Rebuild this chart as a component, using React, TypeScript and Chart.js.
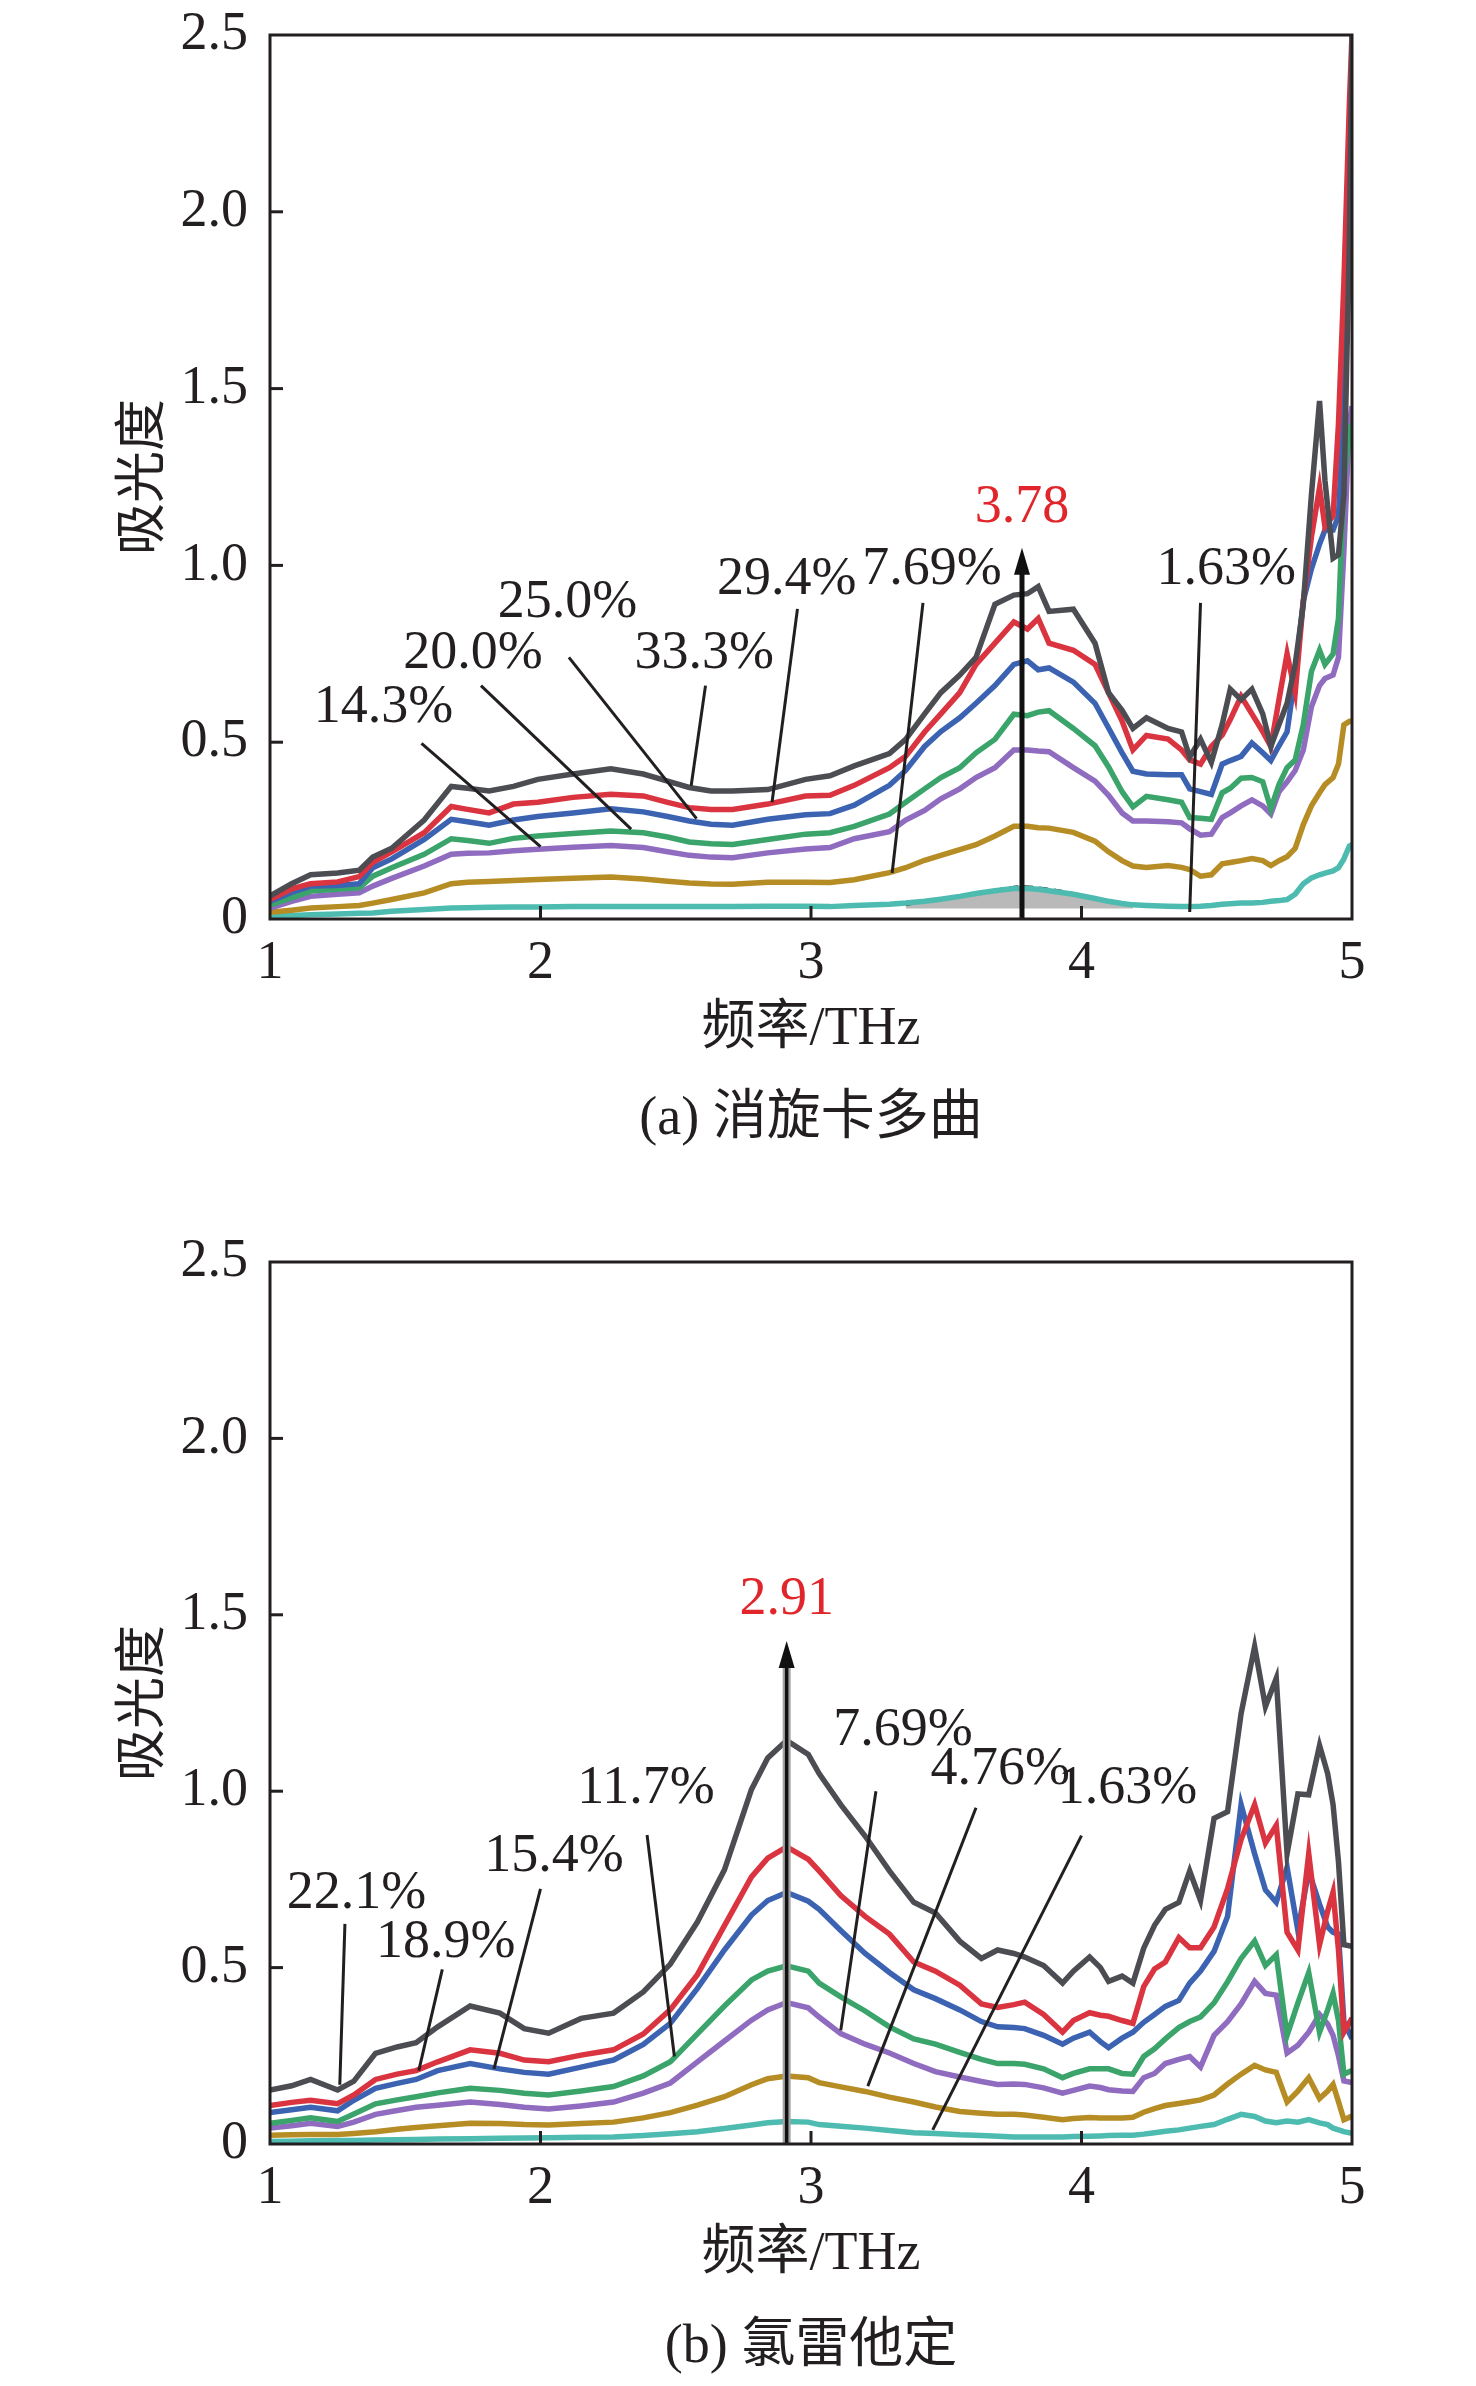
import { useEffect, useRef } from "react";
import { Chart, registerables } from "chart.js";

Chart.register(...registerables);

const SERIF = '"Liberation Serif", "Times New Roman", "Noto Sans CJK SC", serif';
const INK = "#231f20";
const RED_TEXT = "#e0262b";

// line colours, top of the stack first
const COLORS = ["#4b4d52", "#d9343f", "#3b63b1", "#3aa46a", "#8f6cbf", "#b68c24", "#4dbbb0"];

const X_TICKS = [1, 2, 3, 4, 5];
const Y_TICK_LABELS = ["0", "0.5", "1.0", "1.5", "2.0", "2.5"];
const X_INNER_TICKS = [2, 3, 4];
const Y_INNER_TICKS = [0.5, 1.0, 1.5, 2.0];

// ─── (a) 消旋卡多曲 ──────────────────────────────────────────────
const A_FREQ = [1.0, 1.08, 1.15, 1.25, 1.33, 1.38, 1.45, 1.57, 1.67, 1.73, 1.81, 1.9, 1.99, 2.12, 2.26, 2.38, 2.47, 2.55, 2.63, 2.71, 2.84, 2.98, 3.07, 3.16, 3.29, 3.35, 3.42, 3.48, 3.55, 3.61, 3.68, 3.75, 3.8, 3.84, 3.88, 3.97, 4.05, 4.1, 4.15, 4.19, 4.24, 4.32, 4.37, 4.4, 4.44, 4.48, 4.52, 4.55, 4.59, 4.63, 4.67, 4.7, 4.73, 4.76, 4.79, 4.82, 4.85, 4.88, 4.9, 4.93, 4.95, 4.97, 4.99, 5.0];
const A_33_3 = [0.065, 0.10, 0.125, 0.13, 0.138, 0.175, 0.20, 0.28, 0.375, 0.37, 0.362, 0.375, 0.395, 0.41, 0.425, 0.41, 0.39, 0.372, 0.362, 0.362, 0.366, 0.395, 0.405, 0.433, 0.468, 0.508, 0.58, 0.64, 0.69, 0.74, 0.89, 0.916, 0.92, 0.94, 0.87, 0.876, 0.78, 0.64, 0.59, 0.539, 0.569, 0.539, 0.529, 0.458, 0.508, 0.443, 0.55, 0.65, 0.62, 0.65, 0.58, 0.488, 0.55, 0.61, 0.72, 0.89, 1.2, 1.465, 1.24, 1.02, 1.03, 1.2, 1.9, 2.5];
const A_29_4 = [0.055, 0.085, 0.10, 0.105, 0.12, 0.16, 0.19, 0.244, 0.318, 0.31, 0.30, 0.325, 0.33, 0.344, 0.353, 0.348, 0.33, 0.315, 0.31, 0.31, 0.325, 0.348, 0.35, 0.378, 0.428, 0.46, 0.529, 0.58, 0.64, 0.72, 0.78, 0.84, 0.82, 0.85, 0.78, 0.76, 0.72, 0.64, 0.56, 0.478, 0.519, 0.509, 0.478, 0.45, 0.438, 0.488, 0.52, 0.564, 0.63, 0.58, 0.53, 0.488, 0.62, 0.75, 0.64, 0.90, 1.08, 1.22, 1.11, 1.14, 1.4, 1.8, 2.3, 2.5];
const A_25_0 = [0.05, 0.075, 0.093, 0.095, 0.10, 0.145, 0.17, 0.225, 0.282, 0.275, 0.265, 0.28, 0.29, 0.30, 0.312, 0.303, 0.29, 0.277, 0.268, 0.265, 0.282, 0.295, 0.298, 0.322, 0.378, 0.42, 0.488, 0.53, 0.569, 0.61, 0.66, 0.72, 0.73, 0.705, 0.71, 0.67, 0.61, 0.54, 0.47, 0.418, 0.41, 0.408, 0.408, 0.368, 0.36, 0.352, 0.438, 0.448, 0.46, 0.498, 0.47, 0.448, 0.49, 0.529, 0.69, 0.9, 0.99, 1.06, 1.10, 1.10, 1.14, 1.445, 1.9, 2.0];
const A_20_0 = [0.04, 0.06, 0.079, 0.084, 0.088, 0.121, 0.145, 0.183, 0.227, 0.222, 0.214, 0.228, 0.235, 0.242, 0.249, 0.244, 0.232, 0.218, 0.213, 0.211, 0.225, 0.24, 0.244, 0.262, 0.297, 0.33, 0.368, 0.40, 0.428, 0.47, 0.508, 0.579, 0.575, 0.585, 0.589, 0.539, 0.49, 0.43, 0.36, 0.317, 0.347, 0.337, 0.33, 0.287, 0.285, 0.282, 0.357, 0.37, 0.398, 0.40, 0.388, 0.312, 0.38, 0.428, 0.45, 0.55, 0.7, 0.76, 0.72, 0.75, 0.85, 1.24, 1.38, 1.4];
const A_14_3 = [0.031, 0.05, 0.064, 0.07, 0.074, 0.093, 0.115, 0.15, 0.183, 0.186, 0.187, 0.193, 0.197, 0.203, 0.208, 0.202, 0.19, 0.18, 0.175, 0.173, 0.187, 0.198, 0.202, 0.227, 0.247, 0.28, 0.307, 0.34, 0.368, 0.40, 0.428, 0.478, 0.478, 0.475, 0.473, 0.428, 0.39, 0.35, 0.30, 0.277, 0.277, 0.275, 0.272, 0.255, 0.237, 0.24, 0.287, 0.30, 0.32, 0.337, 0.32, 0.297, 0.36, 0.388, 0.42, 0.478, 0.6, 0.66, 0.68, 0.69, 0.74, 1.04, 1.4, 1.45];
const A_7_69 = [0.019, 0.025, 0.031, 0.035, 0.038, 0.045, 0.055, 0.074, 0.10, 0.104, 0.106, 0.109, 0.112, 0.115, 0.119, 0.113, 0.107, 0.102, 0.099, 0.098, 0.104, 0.104, 0.103, 0.111, 0.131, 0.145, 0.166, 0.18, 0.196, 0.21, 0.235, 0.262, 0.262, 0.258, 0.257, 0.245, 0.22, 0.19, 0.165, 0.15, 0.146, 0.151, 0.146, 0.14, 0.121, 0.125, 0.156, 0.16, 0.165, 0.171, 0.165, 0.151, 0.165, 0.176, 0.2, 0.267, 0.32, 0.357, 0.38, 0.40, 0.438, 0.549, 0.559, 0.56];
const A_1_63 = [0.009, 0.01, 0.012, 0.014, 0.016, 0.017, 0.022, 0.027, 0.031, 0.032, 0.033, 0.034, 0.034, 0.035, 0.035, 0.035, 0.035, 0.035, 0.035, 0.035, 0.036, 0.036, 0.035, 0.038, 0.042, 0.045, 0.05, 0.056, 0.064, 0.072, 0.08, 0.086, 0.086, 0.084, 0.08, 0.07, 0.058, 0.05, 0.044, 0.04, 0.038, 0.036, 0.035, 0.035, 0.036, 0.038, 0.042, 0.043, 0.045, 0.045, 0.047, 0.05, 0.052, 0.055, 0.07, 0.1, 0.116, 0.125, 0.13, 0.136, 0.145, 0.17, 0.206, 0.21];
// grey shaded hump under the 3.78 THz peak
const A_SHADE_FREQ = [3.35, 3.5, 3.65, 3.78, 3.92, 4.05, 4.19];
const A_SHADE = [0.04, 0.06, 0.078, 0.092, 0.08, 0.06, 0.04];

// ─── (b) 氯雷他定 ────────────────────────────────────────────────
const B_FREQ = [1.0, 1.08, 1.15, 1.25, 1.31, 1.39, 1.47, 1.54, 1.62, 1.74, 1.85, 1.94, 2.03, 2.15, 2.27, 2.38, 2.48, 2.58, 2.68, 2.78, 2.84, 2.91, 2.99, 3.03, 3.11, 3.2, 3.29, 3.38, 3.46, 3.55, 3.63, 3.69, 3.75, 3.79, 3.86, 3.93, 3.97, 4.03, 4.07, 4.1, 4.15, 4.19, 4.23, 4.27, 4.31, 4.36, 4.4, 4.44, 4.49, 4.54, 4.59, 4.64, 4.68, 4.72, 4.76, 4.8, 4.84, 4.88, 4.91, 4.93, 4.95, 4.97, 5.0];
const B_22_1 = [0.153, 0.165, 0.183, 0.153, 0.178, 0.257, 0.275, 0.287, 0.332, 0.391, 0.371, 0.327, 0.314, 0.356, 0.371, 0.431, 0.51, 0.629, 0.777, 1.005, 1.094, 1.144, 1.104, 1.05, 0.962, 0.873, 0.774, 0.685, 0.655, 0.575, 0.526, 0.55, 0.54, 0.53, 0.506, 0.456, 0.49, 0.53, 0.50, 0.461, 0.476, 0.456, 0.555, 0.62, 0.665, 0.685, 0.774, 0.69, 0.923, 0.942, 1.22, 1.41, 1.24, 1.32, 0.823, 0.992, 0.99, 1.13, 1.05, 0.962, 0.8, 0.565, 0.56];
const B_18_9 = [0.109, 0.118, 0.124, 0.114, 0.139, 0.183, 0.198, 0.208, 0.233, 0.267, 0.257, 0.238, 0.233, 0.252, 0.267, 0.312, 0.381, 0.48, 0.619, 0.757, 0.81, 0.842, 0.807, 0.774, 0.704, 0.645, 0.595, 0.516, 0.49, 0.45, 0.397, 0.387, 0.395, 0.402, 0.367, 0.317, 0.35, 0.372, 0.365, 0.362, 0.35, 0.342, 0.446, 0.496, 0.516, 0.585, 0.556, 0.556, 0.615, 0.724, 0.863, 0.962, 0.853, 0.903, 0.6, 0.55, 0.823, 0.565, 0.66, 0.714, 0.55, 0.317, 0.357];
const B_15_4 = [0.089, 0.097, 0.104, 0.094, 0.124, 0.158, 0.172, 0.183, 0.208, 0.228, 0.213, 0.203, 0.198, 0.218, 0.238, 0.282, 0.342, 0.441, 0.55, 0.649, 0.69, 0.713, 0.688, 0.665, 0.605, 0.54, 0.486, 0.437, 0.412, 0.38, 0.347, 0.332, 0.33, 0.327, 0.308, 0.283, 0.30, 0.317, 0.29, 0.273, 0.30, 0.317, 0.345, 0.367, 0.39, 0.407, 0.456, 0.49, 0.546, 0.645, 0.962, 0.823, 0.72, 0.685, 0.784, 0.605, 0.774, 0.68, 0.615, 0.6, 0.595, 0.347, 0.298];
const B_11_7 = [0.059, 0.067, 0.074, 0.064, 0.085, 0.114, 0.125, 0.134, 0.145, 0.158, 0.152, 0.144, 0.139, 0.15, 0.163, 0.193, 0.233, 0.312, 0.391, 0.465, 0.49, 0.505, 0.49, 0.456, 0.417, 0.377, 0.332, 0.298, 0.283, 0.26, 0.24, 0.228, 0.228, 0.226, 0.213, 0.188, 0.20, 0.213, 0.213, 0.213, 0.2, 0.198, 0.248, 0.27, 0.298, 0.33, 0.347, 0.36, 0.40, 0.46, 0.526, 0.575, 0.506, 0.536, 0.308, 0.4, 0.486, 0.317, 0.38, 0.427, 0.35, 0.198, 0.208];
const B_7_69 = [0.045, 0.052, 0.059, 0.05, 0.062, 0.084, 0.095, 0.104, 0.11, 0.119, 0.112, 0.104, 0.099, 0.108, 0.119, 0.144, 0.173, 0.233, 0.292, 0.351, 0.38, 0.401, 0.386, 0.36, 0.313, 0.283, 0.258, 0.228, 0.205, 0.19, 0.177, 0.169, 0.17, 0.169, 0.159, 0.144, 0.152, 0.164, 0.16, 0.154, 0.15, 0.149, 0.188, 0.2, 0.228, 0.24, 0.248, 0.218, 0.308, 0.347, 0.397, 0.461, 0.427, 0.422, 0.258, 0.28, 0.317, 0.367, 0.34, 0.308, 0.25, 0.179, 0.174];
const B_4_76 = [0.025, 0.026, 0.027, 0.027, 0.03, 0.035, 0.042, 0.047, 0.052, 0.059, 0.058, 0.055, 0.054, 0.058, 0.062, 0.074, 0.089, 0.11, 0.134, 0.168, 0.185, 0.193, 0.188, 0.174, 0.162, 0.149, 0.133, 0.119, 0.105, 0.092, 0.087, 0.084, 0.084, 0.082, 0.076, 0.069, 0.072, 0.075, 0.074, 0.074, 0.074, 0.076, 0.09, 0.1, 0.109, 0.115, 0.12, 0.125, 0.139, 0.17, 0.198, 0.223, 0.21, 0.203, 0.119, 0.15, 0.188, 0.129, 0.15, 0.169, 0.12, 0.069, 0.079];
const B_1_63 = [0.007, 0.008, 0.009, 0.01, 0.01, 0.011, 0.012, 0.013, 0.014, 0.015, 0.016, 0.017, 0.018, 0.019, 0.02, 0.024, 0.029, 0.035, 0.044, 0.054, 0.06, 0.064, 0.062, 0.055, 0.05, 0.045, 0.038, 0.032, 0.03, 0.026, 0.024, 0.022, 0.02, 0.02, 0.02, 0.02, 0.021, 0.022, 0.023, 0.024, 0.025, 0.025, 0.028, 0.032, 0.036, 0.04, 0.045, 0.05, 0.055, 0.07, 0.084, 0.078, 0.065, 0.06, 0.065, 0.062, 0.069, 0.06, 0.055, 0.045, 0.04, 0.035, 0.03];

type Note = { text: string; at: [number, number]; from: [number, number]; to: [number, number] };
type Peak = { x: number; tip: number; label: string; labelY: number; halo: boolean };

const A_NOTES: Note[] = [
  { text: "14.3%", at: [1.42, 0.597], from: [1.56, 0.497], to: [2.0, 0.205] },
  { text: "20.0%", at: [1.75, 0.75], from: [1.78, 0.66], to: [2.335, 0.254] },
  { text: "25.0%", at: [2.1, 0.894], from: [2.105, 0.74], to: [2.577, 0.284] },
  { text: "33.3%", at: [2.605, 0.75], from: [2.61, 0.66], to: [2.557, 0.377] },
  { text: "29.4%", at: [2.91, 0.958], from: [2.95, 0.877], to: [2.856, 0.33] },
  { text: "7.69%", at: [3.447, 0.987], from: [3.414, 0.894], to: [3.3, 0.13] },
  { text: "1.63%", at: [4.535, 0.987], from: [4.44, 0.894], to: [4.4, 0.02] },
];
const A_PEAK: Peak = { x: 3.78, tip: 1.05, label: "3.78", labelY: 1.162, halo: false };

const B_NOTES: Note[] = [
  { text: "22.1%", at: [1.32, 0.708], from: [1.277, 0.624], to: [1.258, 0.168] },
  { text: "18.9%", at: [1.65, 0.569], from: [1.637, 0.495], to: [1.55, 0.208] },
  { text: "15.4%", at: [2.05, 0.815], from: [2.0, 0.723], to: [1.828, 0.213] },
  { text: "11.7%", at: [2.39, 1.008], from: [2.394, 0.876], to: [2.495, 0.248] },
  { text: "7.69%", at: [3.34, 1.17], from: [3.24, 1.0], to: [3.11, 0.322] },
  { text: "4.76%", at: [3.7, 1.06], from: [3.61, 0.953], to: [3.21, 0.164] },
  { text: "1.63%", at: [4.17, 1.006], from: [4.0, 0.874], to: [3.45, 0.04] },
];
const B_PEAK: Peak = { x: 2.91, tip: 1.426, label: "2.91", labelY: 1.543, halo: true };

type PanelProps = {
  top: number;
  height: number;
  plotTop: number;
  plotBottom: number;
  xTitleCenter: number;
  captionDy: number;
  freq: number[];
  series: number[][];
  shade?: { freq: number[]; values: number[] };
  notes: Note[];
  peak: Peak;
  caption: string;
};

// Draws frame, inward ticks, arrow, leader lines and all free text
function makeOverlay(p: PanelProps) {
  return {
    id: "overlay",
    afterDatasetsDraw(chart: Chart) {
      const { ctx, chartArea: a } = chart;
      const X = (v: number) => chart.scales.x.getPixelForValue(v);
      const Y = (v: number) => chart.scales.y.getPixelForValue(v);
      const seg = (x1: number, y1: number, x2: number, y2: number) => {
        ctx.beginPath();
        ctx.moveTo(x1, y1);
        ctx.lineTo(x2, y2);
        ctx.stroke();
      };
      ctx.save();

      ctx.strokeStyle = INK;
      ctx.lineWidth = 3;
      p.notes.forEach((n) => seg(X(n.from[0]), Y(n.from[1]), X(n.to[0]), Y(n.to[1])));

      // peak arrow
      const ax = X(p.peak.x);
      const tip = Y(p.peak.tip);
      if (p.peak.halo) {
        ctx.strokeStyle = "#a3a3a3";
        ctx.lineWidth = 8;
        seg(ax, a.bottom, ax, tip + 22);
      }
      ctx.strokeStyle = "#111";
      ctx.lineWidth = p.peak.halo ? 3.5 : 5;
      seg(ax, a.bottom, ax, tip + 22);
      ctx.fillStyle = "#111";
      ctx.beginPath();
      ctx.moveTo(ax, tip);
      ctx.lineTo(ax - 8, tip + 27);
      ctx.lineTo(ax + 8, tip + 27);
      ctx.closePath();
      ctx.fill();

      // frame + inward tick marks
      ctx.strokeStyle = INK;
      ctx.lineWidth = 3;
      ctx.strokeRect(a.left, a.top, a.right - a.left, a.bottom - a.top);
      X_INNER_TICKS.forEach((t) => seg(X(t), a.bottom, X(t), a.bottom - 13));
      Y_INNER_TICKS.forEach((t) => seg(a.left, Y(t), a.left + 13, Y(t)));

      ctx.font = `54px ${SERIF}`;
      ctx.textAlign = "center";
      ctx.textBaseline = "middle";
      ctx.fillStyle = INK;
      p.notes.forEach((n) => ctx.fillText(n.text, X(n.at[0]), Y(n.at[1])));
      ctx.fillStyle = RED_TEXT;
      ctx.fillText(p.peak.label, ax, Y(p.peak.labelY));
      ctx.fillStyle = INK;
      ctx.fillText(p.caption, (a.left + a.right) / 2, a.bottom + p.captionDy);
      ctx.restore();
    },
  };
}

function Panel(p: PanelProps) {
  const canvasRef = useRef<HTMLCanvasElement>(null);

  useEffect(() => {
    if (!canvasRef.current) return;
    const xAxisH = p.height - p.plotBottom;
    const tickFont = { family: SERIF, size: 54, lineHeight: 1.2 };

    const datasets: any[] = p.series.map((vals, i) => ({
      data: p.freq.map((f, j) => ({ x: f, y: vals[j] })),
      borderColor: COLORS[i],
      borderWidth: 5.5,
      pointRadius: 0,
      tension: 0,
      fill: false,
    }));
    if (p.shade) {
      const s = p.shade;
      datasets.push({
        data: s.freq.map((f, j) => ({ x: f, y: s.values[j] })),
        borderColor: "#111",
        borderWidth: 2.5,
        borderDash: [9, 6],
        backgroundColor: "#b9b9b9",
        pointRadius: 0,
        tension: 0.3,
        fill: { value: 0.03 },
      });
    }

    const chart = new Chart(canvasRef.current, {
      type: "line",
      data: { datasets },
      plugins: [makeOverlay(p)],
      options: {
        responsive: false,
        animation: false,
        events: [],
        layout: { padding: { top: p.plotTop, right: 1476 - 1352, left: 0, bottom: 0 } },
        plugins: { legend: { display: false }, tooltip: { enabled: false } },
        scales: {
          x: {
            type: "linear",
            min: 1,
            max: 5,
            grid: { display: false, drawTicks: false },
            border: { display: false },
            afterBuildTicks: (s: any) => {
              s.ticks = X_TICKS.map((v) => ({ value: v }));
            },
            ticks: {
              padding: 12,
              color: INK,
              font: tickFont,
              maxRotation: 0,
              autoSkip: false,
              callback: (v: any) => String(v),
            },
            title: {
              display: true,
              text: "频率/THz",
              color: INK,
              font: tickFont,
              padding: { top: 0, bottom: p.height - p.xTitleCenter - 32.4 },
            },
            afterFit: (s: any) => {
              s.height = xAxisH;
              s.paddingLeft = 0;
              s.paddingRight = 0;
            },
          },
          y: {
            type: "linear",
            min: 0,
            max: 2.5,
            grid: { display: false, drawTicks: false },
            border: { display: false },
            ticks: {
              stepSize: 0.5,
              padding: 22,
              color: INK,
              font: tickFont,
              callback: (v: any) => Y_TICK_LABELS[Math.round(Number(v) * 2)],
            },
            title: {
              display: true,
              text: "吸光度",
              color: INK,
              font: { family: SERIF, size: 52, lineHeight: 1.2 },
              padding: { top: 114, bottom: 0 },
            },
            afterFit: (s: any) => {
              s.width = 270;
              s.paddingTop = 0;
              s.paddingBottom = 0;
            },
          },
        },
      } as any,
    });
    return () => chart.destroy();
  }, []);

  return (
    <canvas
      ref={canvasRef}
      width={1476}
      height={p.height}
      style={{ position: "absolute", left: 0, top: p.top, display: "block" }}
    />
  );
}

export default function App() {
  return (
    <div style={{ position: "absolute", left: 0, top: 0, width: 1476, height: 2386, background: "#fff" }}>
      <Panel
        top={0}
        height={1180}
        plotTop={35}
        plotBottom={919}
        xTitleCenter={1030}
        captionDy={201}
        freq={A_FREQ}
        series={[A_33_3, A_29_4, A_25_0, A_20_0, A_14_3, A_7_69, A_1_63]}
        shade={{ freq: A_SHADE_FREQ, values: A_SHADE }}
        notes={A_NOTES}
        peak={A_PEAK}
        caption="(a) 消旋卡多曲"
      />
      <Panel
        top={1180}
        height={1206}
        plotTop={82}
        plotBottom={964}
        xTitleCenter={1075}
        captionDy={204}
        freq={B_FREQ}
        series={[B_22_1, B_18_9, B_15_4, B_11_7, B_7_69, B_4_76, B_1_63]}
        notes={B_NOTES}
        peak={B_PEAK}
        caption="(b) 氯雷他定"
      />
    </div>
  );
}
